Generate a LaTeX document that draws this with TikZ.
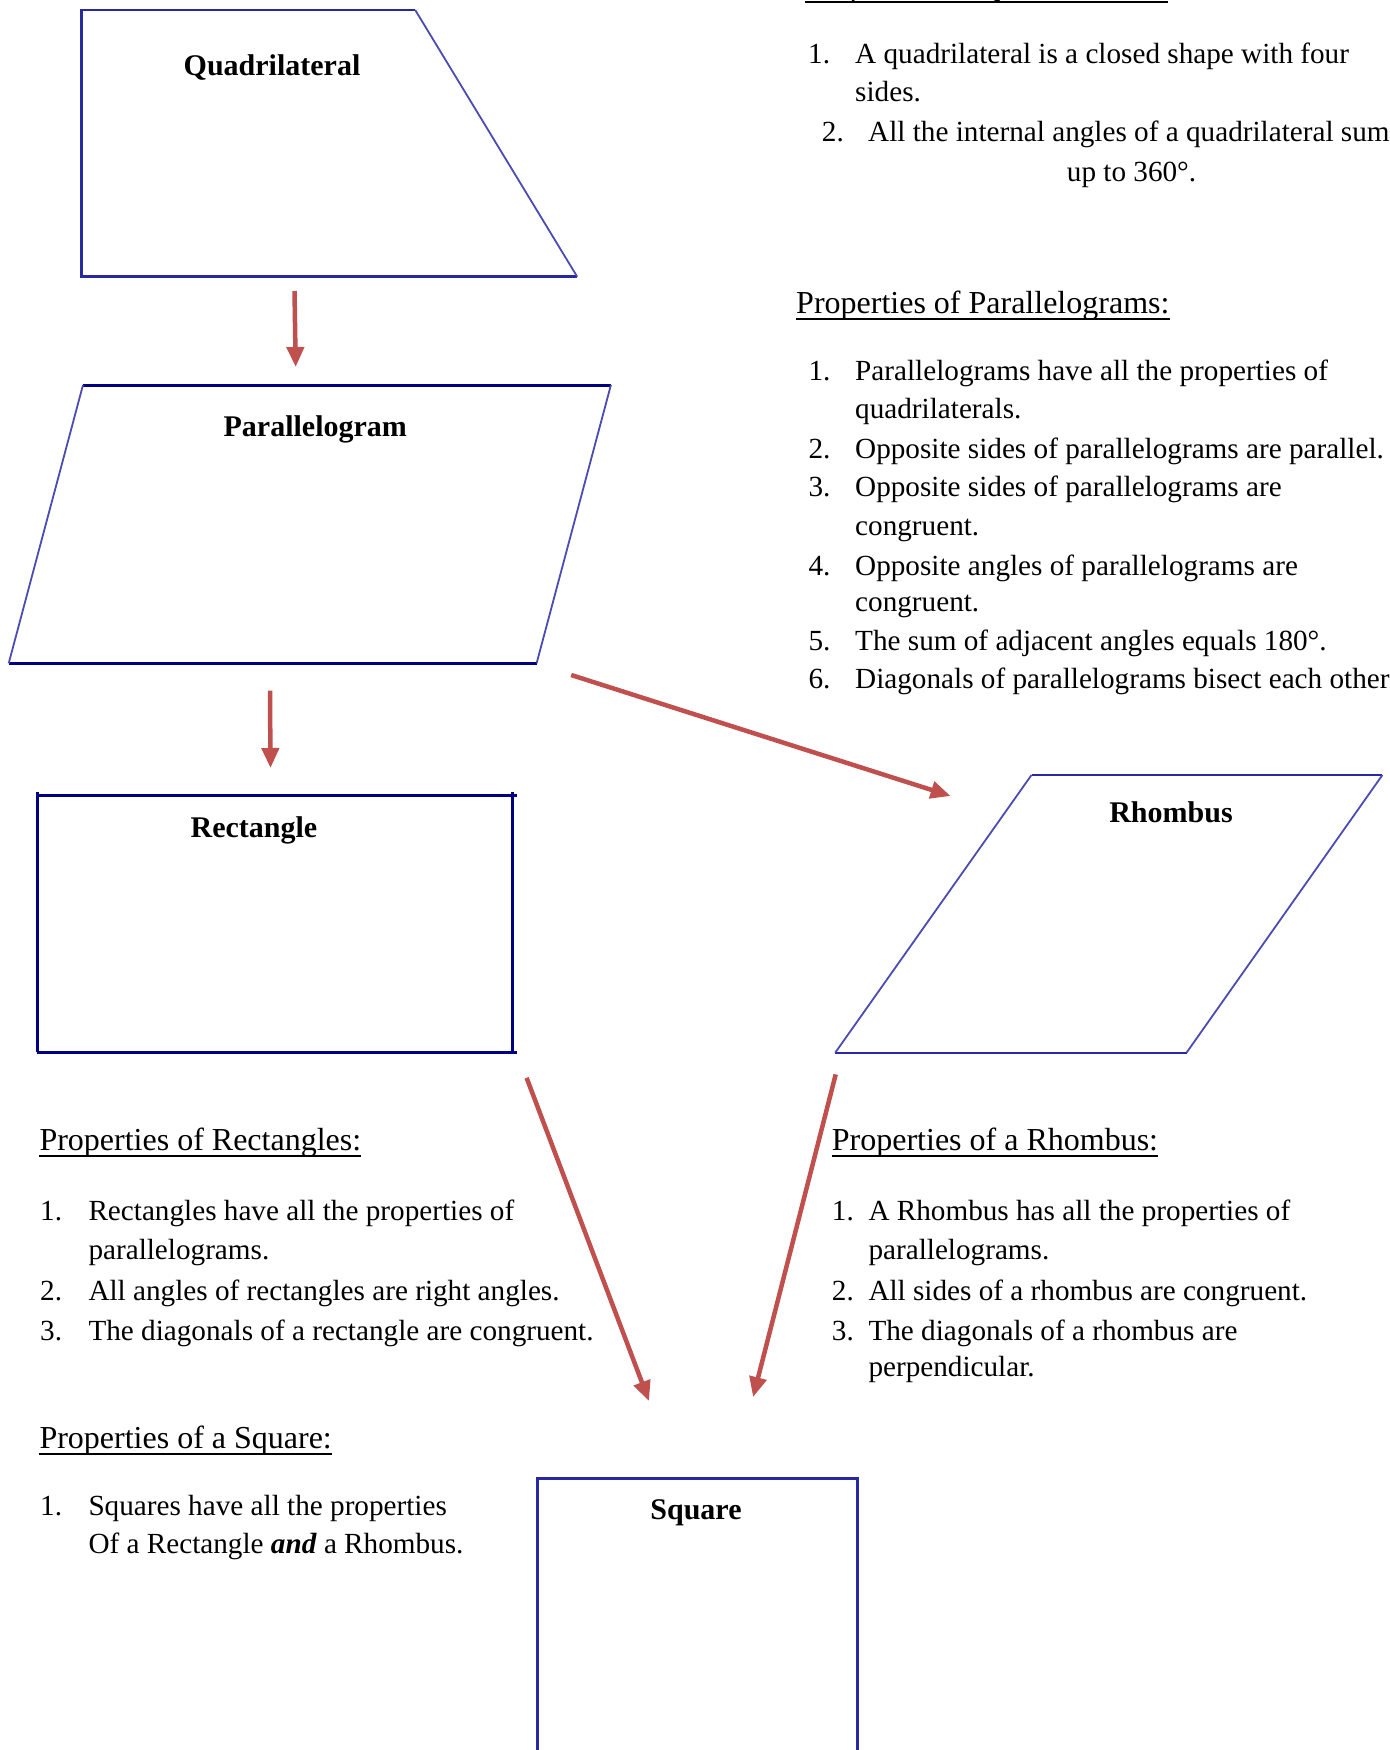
\documentclass[tikz,border=0pt]{standalone}
\usepackage{fontspec}
\setmainfont{Liberation Serif}
\usetikzlibrary{arrows.meta}
\definecolor{navyline}{RGB}{0,0,128}
\definecolor{boxblue}{RGB}{40,40,160}
\definecolor{slantblue}{RGB}{75,75,180}
\definecolor{arrowred}{RGB}{192,80,77}
\begin{document}
\begin{tikzpicture}[x=1pt,y=-1pt,
  body/.style={anchor=base west,inner sep=0pt,font=\fontsize{29.2}{35}\selectfont},
  head/.style={anchor=base west,inner sep=0pt,font=\fontsize{32}{38}\selectfont},
  lbl/.style={anchor=base,inner sep=0pt,font=\fontsize{30}{36}\selectfont\bfseries},
  uline/.style={draw=black,line width=2pt},
  edgenavy/.style={draw=navyline,line width=3pt},
  edgeblue/.style={draw=boxblue,line width=2.6pt},
  edgeslant/.style={draw=slantblue,line width=1.8pt},
  arr/.style={draw=arrowred,line width=4.5pt,-{Triangle[length=20pt,width=17pt]}}]
\useasboundingbox (0,0) rectangle (1389,1750);
\clip (0,0) rectangle (1389,1750);
\fill[white] (0,0) rectangle (1389,1750);

% ---------- shapes ----------
% Quadrilateral
\coordinate (qtl) at (81.4,10);
\coordinate (qtr) at (415.2,10);
\coordinate (qbr) at (577.2,276.7);
\coordinate (qbl) at (81.4,276.7);
\draw[edgeblue] (qtr) -- (qtl) -- (qbl) -- (qbr);
\draw[edgeslant] (qtr) -- (qbr);
\node[lbl] (quadlbl) at (272,76) {Quadrilateral};

% Parallelogram
\coordinate (ptl) at (83,385);
\coordinate (ptr) at (610.9,385);
\coordinate (pbr) at (536.6,663.3);
\coordinate (pbl) at (8.7,663.3);
\draw[edgenavy] (ptl) -- (ptr);
\draw[edgenavy] (pbl) -- (pbr);
\draw[edgeslant] (ptl) -- (pbl);
\draw[edgeslant] (ptr) -- (pbr);
\node[lbl] (paralbl) at (315.3,436) {Parallelogram};

% Rectangle
\coordinate (rtl) at (37.2,795);
\coordinate (rtr) at (512,795);
\coordinate (rbr) at (512,1052.3);
\coordinate (rbl) at (37.2,1052.3);
\coordinate (rtlx) at (37.2,791.5);
\coordinate (rtrx) at (512,791.5);
\coordinate (rtre) at (517,795);
\coordinate (rbre) at (517,1052.3);
\draw[edgenavy] (rtl) -- (rtre);
\draw[edgenavy] (rbl) -- (rbre);
\draw[edgenavy] (rtlx) -- (rbl);
\draw[edgenavy] (rtrx) -- (rbr);
\node[lbl] (rectlbl) at (253.9,837.3) {Rectangle};

% Rhombus
\coordinate (htl) at (1031.5,775);
\coordinate (htr) at (1382.4,775);
\coordinate (hbr) at (1186.5,1052.7);
\coordinate (hbl) at (835.2,1052.7);
\draw[edgeblue,line width=2.2pt] (htl) -- (htr);
\draw[edgeblue,line width=2.2pt] (hbl) -- (hbr);
\draw[edgeslant] (htl) -- (hbl);
\draw[edgeslant] (htr) -- (hbr);
\node[lbl] (rhomlbl) at (1171,822.7) {Rhombus};

% Square
\coordinate (stl) at (537.3,1478.3);
\coordinate (str) at (857.7,1478.3);
\coordinate (sbl) at (537.3,1770);
\coordinate (sbr) at (857.7,1770);
\draw[edgeblue] (sbl) -- (stl) -- (str) -- (sbr);
\node[lbl] (sqlbl) at (696,1519.3) {Square};

% ---------- arrows ----------
\coordinate (a1s) at (294.5,291);
\coordinate (a1e) at (295.7,367);
\coordinate (a2s) at (270,690.6);
\coordinate (a2e) at (270.5,768);
\coordinate (a3s) at (571.2,675);
\coordinate (a3e) at (950.6,796);
\coordinate (a4s) at (526.6,1077.8);
\coordinate (a4e) at (649,1401);
\coordinate (a5s) at (835.7,1074.4);
\coordinate (a5e) at (753.1,1397);
\draw[arr] (a1s) -- (a1e);
\draw[arr] (a2s) -- (a2e);
\draw[arr] (a3s) -- (a3e);
\draw[arr] (a4s) -- (a4e);
\draw[arr] (a5s) -- (a5e);

% ---------- quadrilateral properties ----------
\node[head] (hq) at (805,-3.5) {Properties of Quadrilaterals:};
\draw[uline] ([yshift=-5.5pt]hq.base west) -- ([yshift=-5.5pt]hq.base east);
\node[body] (q1n) at (808,63.3) {1.};
\node[body] (q1a) at (855,63.3) {A quadrilateral is a closed shape with four};
\node[body] (q1b) at (855,101.7) {sides.};
\node[body] (q2n) at (821.7,141.7) {2.};
\node[body] (q2a) at (868,141.7) {All the internal angles of a quadrilateral sum};
\node[body] (q2b) at (1066.7,181.7) {up to 360°.};

% ---------- parallelogram properties ----------
\node[head] (hp) at (796,313.3) {Properties of Parallelograms:};
\draw[uline] ([yshift=-5.5pt]hp.base west) -- ([yshift=-5.5pt]hp.base east);
\node[body] (p1n) at (808.3,380) {1.};
\node[body] (p1a) at (855,380) {Parallelograms have all the properties of};
\node[body] (p1b) at (855,418.3) {quadrilaterals.};
\node[body] (p2n) at (808.3,458.3) {2.};
\node[body] (p2a) at (855,458.3) {Opposite sides of parallelograms are parallel.};
\node[body] (p3n) at (808.3,496.7) {3.};
\node[body] (p3a) at (855,496.7) {Opposite sides of parallelograms are};
\node[body] (p3b) at (855,535) {congruent.};
\node[body] (p4n) at (808.3,575) {4.};
\node[body] (p4a) at (855,575) {Opposite angles of parallelograms are};
\node[body] (p4b) at (855,611.7) {congruent.};
\node[body] (p5n) at (808.3,650) {5.};
\node[body] (p5a) at (855,650) {The sum of adjacent angles equals 180°.};
\node[body] (p6n) at (808.3,688.3) {6.};
\node[body] (p6a) at (855,688.3) {Diagonals of parallelograms bisect each other};

% ---------- rectangle properties ----------
\node[head] (hr) at (39.3,1150) {Properties of Rectangles:};
\draw[uline] ([yshift=-5.5pt]hr.base west) -- ([yshift=-5.5pt]hr.base east);
\node[body] (r1n) at (40,1220) {1.};
\node[body] (r1a) at (88.3,1220) {Rectangles have all the properties of};
\node[body] (r1b) at (88.3,1259.3) {parallelograms.};
\node[body] (r2n) at (40,1300) {2.};
\node[body] (r2a) at (88.3,1300) {All angles of rectangles are right angles.};
\node[body] (r3n) at (40,1340) {3.};
\node[body] (r3a) at (88.3,1340) {The diagonals of a rectangle are congruent.};

% ---------- rhombus properties ----------
\node[head] (hh) at (831.7,1150) {Properties of a Rhombus:};
\draw[uline] ([yshift=-5.5pt]hh.base west) -- ([yshift=-5.5pt]hh.base east);
\node[body] (h1n) at (831.7,1220) {1.};
\node[body] (h1a) at (868.3,1220) {A Rhombus has all the properties of};
\node[body] (h1b) at (868.3,1259.3) {parallelograms.};
\node[body] (h2n) at (831.7,1300) {2.};
\node[body] (h2a) at (868.3,1300) {All sides of a rhombus are congruent.};
\node[body] (h3n) at (831.7,1340) {3.};
\node[body] (h3a) at (868.3,1340) {The diagonals of a rhombus are};
\node[body] (h3b) at (868.3,1376.7) {perpendicular.};

% ---------- square properties ----------
\node[head] (hs) at (39.3,1448.3) {Properties of a Square:};
\draw[uline] ([yshift=-5.5pt]hs.base west) -- ([yshift=-5.5pt]hs.base east);
\node[body] (s1n) at (40,1515) {1.};
\node[body] (s1a) at (88.3,1515) {Squares have all the properties};
\node[body] (s1b) at (88.3,1553.3) {Of a Rectangle \textbf{\textit{and}} a Rhombus.};
\end{tikzpicture}
\end{document}
